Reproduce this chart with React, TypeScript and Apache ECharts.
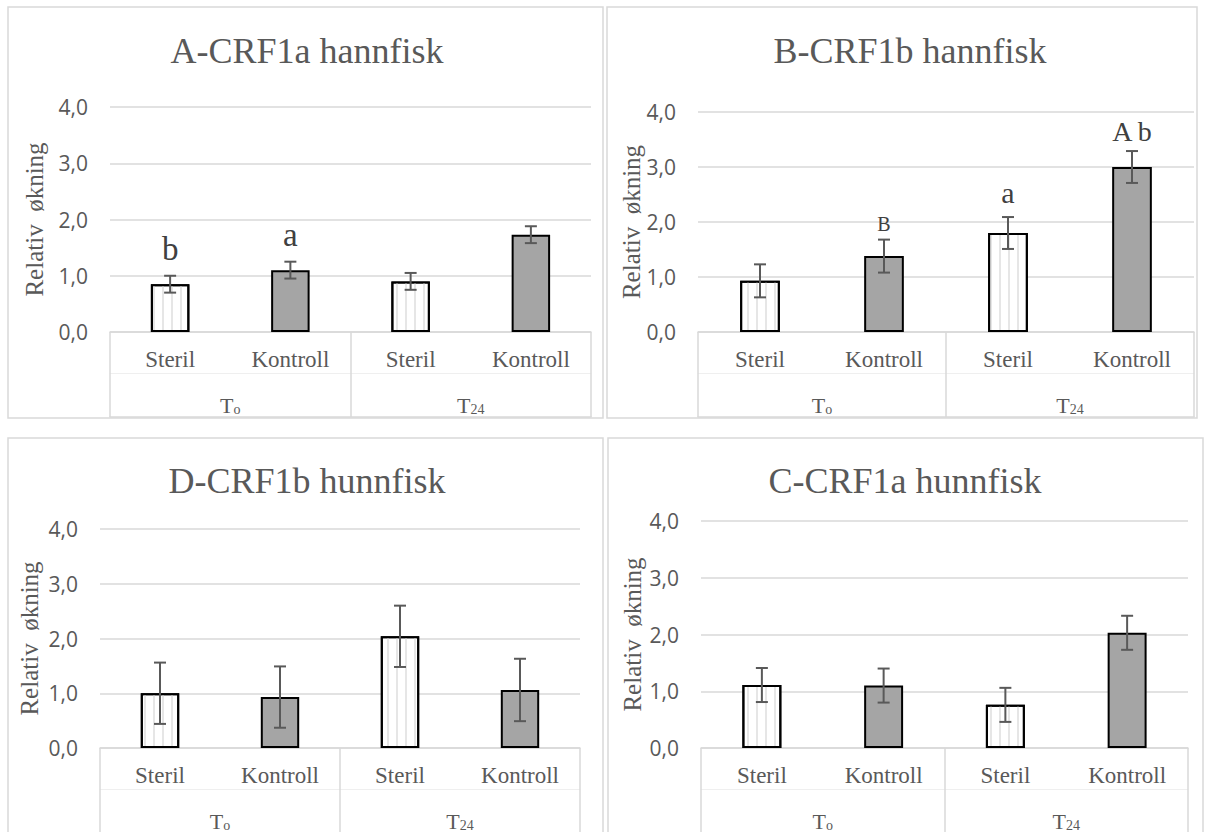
import React, { useEffect, useRef } from "react";
import * as echarts from "echarts";

// ---------- data ----------
const categories = ["Steril", "Kontroll", "Steril", "Kontroll"];
const groups = ["To", "T24"];
const yTicks = [0, 1, 2, 3, 4];
const yLabel = "Relativ  økning";

const titleA = "A-CRF1a hannfisk";
const meansA = [0.85, 1.1, 0.9, 1.73];
const errA = [0.15, 0.15, 0.15, 0.15];
const annotA = ["b", "a", "", ""];

const titleB = "B-CRF1b hannfisk";
const meansB = [0.93, 1.38, 1.8, 3.0];
const errB = [0.3, 0.3, 0.29, 0.29];
const annotB = ["", "B", "a", "A b"];

const titleD = "D-CRF1b hunnfisk";
const meansD = [1.0, 0.93, 2.04, 1.06];
const errD = [0.56, 0.56, 0.56, 0.57];
const annotD = ["", "", "", ""];

const titleC = "C-CRF1a hunnfisk";
const meansC = [1.11, 1.1, 0.76, 2.03];
const errC = [0.3, 0.3, 0.3, 0.3];
const annotC = ["", "", "", ""];

// ---------- styles / layout ----------
const TEXT = "#595959";
const GRID = "#d9d9d9";
const SERIF = "Liberation Serif";
const SANS = "Open Sans";

const panels = [
  { title: titleA, means: meansA, errs: errA, annots: annotA, annotSize: [33, 33, 0, 0], annotGap: [10, 10, 0, 0],
    left: 110, top: 107, width: 481, height: 225, titleX: 307, titleY: 51, nameX: 34, border: [8, 7, 595, 411] },
  { title: titleB, means: meansB, errs: errB, annots: annotB, annotSize: [0, 20, 30, 28], annotGap: [0, 6, 10, 6],
    left: 698, top: 112, width: 496, height: 220, titleX: 910, titleY: 51, nameX: 631, border: [607, 7, 590, 411] },
  { title: titleD, means: meansD, errs: errD, annots: annotD, annotSize: [0, 0, 0, 0], annotGap: [0, 0, 0, 0],
    left: 100, top: 529, width: 480, height: 221, titleX: 307, titleY: 481, nameX: 29, border: [8, 438, 595, 420] },
  { title: titleC, means: meansC, errs: errC, annots: annotC, annotSize: [0, 0, 0, 0], annotGap: [0, 0, 0, 0],
    left: 701, top: 521, width: 487, height: 227, titleX: 905, titleY: 481, nameX: 632, border: [608, 438, 595, 420] },
];

function buildOption() {
  const grid: any[] = [];
  const xAxis: any[] = [];
  const yAxis: any[] = [];
  const series: any[] = [];
  const graphic: any[] = [];

  panels.forEach((p, g) => {
    grid.push({ left: p.left, top: p.top, width: p.width, height: p.height });

    // level-1 categories
    xAxis.push({
      type: "category", gridIndex: g, position: "bottom", data: categories,
      axisLine: { show: true, lineStyle: { color: GRID, width: 1.5 } },
      axisTick: { show: false },
      axisLabel: {
        margin: 16,
        formatter: (v: string) => `{c|${v}}`,
        rich: { c: { fontFamily: SERIF, fontSize: 23, color: TEXT } },
      },
    });
    // level-2 groups
    xAxis.push({
      type: "category", gridIndex: g, position: "bottom", data: groups,
      axisLine: { show: false },
      axisTick: { show: true, length: 85, lineStyle: { color: GRID, width: 1.5 } },
      axisLabel: {
        margin: 62,
        formatter: (v: string) => `{t|${v.charAt(0)}}{s|${v.slice(1)}}`,
        rich: {
          t: { fontFamily: SERIF, fontSize: 22, color: TEXT },
          s: { fontFamily: SERIF, fontSize: 14, color: TEXT, padding: [8, 0, 0, 0] },
        },
      },
    });
    // box bottom line
    xAxis.push({
      type: "category", gridIndex: g, position: "bottom", offset: 85, data: groups,
      axisLine: { show: true, lineStyle: { color: GRID, width: 1.5 } },
      axisTick: { show: false }, axisLabel: { show: false },
    });
    // faint separator between levels
    xAxis.push({
      type: "category", gridIndex: g, position: "bottom", offset: 41, data: groups,
      axisLine: { show: true, lineStyle: { color: "#efefef", width: 1 } },
      axisTick: { show: false }, axisLabel: { show: false },
    });

    yAxis.push({
      type: "value", gridIndex: g, min: yTicks[0], max: yTicks[yTicks.length - 1], interval: 1,
      axisLine: { show: false }, axisTick: { show: false },
      axisLabel: { fontFamily: SANS, fontSize: 21, color: TEXT, margin: 22,
        formatter: (v: number) => v.toFixed(1).replace(".", ",") },
      splitLine: { lineStyle: { color: GRID, width: 1.5 } },
    });

    series.push({
      type: "bar", xAxisIndex: g * 4, yAxisIndex: g, barWidth: "32%", z: 2,
      data: p.means.map((v, i) => ({
        value: v,
        itemStyle: i % 2 === 0
          ? { color: "#ffffff", borderColor: "#000", borderWidth: 2,
              decal: { symbol: "rect", symbolSize: 1, dashArrayX: [1.5, 7], dashArrayY: [4, 0], color: "#e6e6e6", rotation: 0 } }
          : { color: "#a5a5a5", borderColor: "#000", borderWidth: 2 },
      })),
    });

    series.push({
      type: "custom", xAxisIndex: g * 4, yAxisIndex: g, z: 5,
      data: p.means.map((v, i) => [i, v - p.errs[i], v + p.errs[i]]),
      renderItem: (params: any, api: any) => {
        const i = api.value(0);
        const top = api.coord([i, api.value(2)]);
        const bot = api.coord([i, api.value(1)]);
        const cx = top[0];
        const st = { stroke: TEXT, lineWidth: 2 };
        const children: any[] = [
          { type: "line", shape: { x1: cx, y1: top[1], x2: cx, y2: bot[1] }, style: st },
          { type: "line", shape: { x1: cx - 6, y1: top[1], x2: cx + 6, y2: top[1] }, style: st },
          { type: "line", shape: { x1: cx - 6, y1: bot[1], x2: cx + 6, y2: bot[1] }, style: st },
        ];
        const txt = p.annots[params.dataIndex];
        if (txt) {
          children.push({
            type: "text", x: cx, y: top[1] - p.annotGap[params.dataIndex],
            style: { text: txt, fill: "#404040", fontFamily: SERIF, fontSize: p.annotSize[params.dataIndex],
              align: "center", verticalAlign: "bottom", textAlign: "center", textVerticalAlign: "bottom" },
          });
        }
        return { type: "group", children };
      },
    });

    // y-axis name and panel title as serif text elements
    series.push({
      type: "custom", xAxisIndex: g * 4, yAxisIndex: g, z: 6, silent: true,
      data: [[0, 2]],
      renderItem: (params: any, api: any) => {
        const mid = api.coord([0, 2]);
        return {
          type: "group",
          children: [
            {
              type: "text", x: p.nameX, y: mid[1], rotation: Math.PI / 2,
              style: { text: yLabel, fill: TEXT, fontFamily: SERIF, fontSize: 25,
                align: "center", verticalAlign: "middle", textAlign: "center", textVerticalAlign: "middle" },
            },
            {
              type: "text", x: p.titleX, y: p.titleY,
              style: { text: p.title, fill: TEXT, fontFamily: SERIF, fontSize: 36,
                align: "center", verticalAlign: "middle", textAlign: "center", textVerticalAlign: "middle" },
            },
          ],
        };
      },
    });

    const [bx, by, bw, bh] = p.border;
    graphic.push({ type: "rect", shape: { x: bx, y: by, width: bw, height: bh }, style: { fill: "none", stroke: GRID, lineWidth: 1.5 }, silent: true });
  });

  return { animation: false, backgroundColor: "#ffffff", grid, xAxis, yAxis, series, graphic };
}

export default function App() {
  const ref = useRef<HTMLDivElement>(null);
  useEffect(() => {
    if (!ref.current) return;
    const chart = echarts.init(ref.current, undefined, { renderer: "svg" });
    chart.setOption(buildOption() as any);
    return () => chart.dispose();
  }, []);
  return <div ref={ref} style={{ position: "fixed", left: 0, top: 0, width: 1208, height: 832, background: "#fff" }} />;
}
